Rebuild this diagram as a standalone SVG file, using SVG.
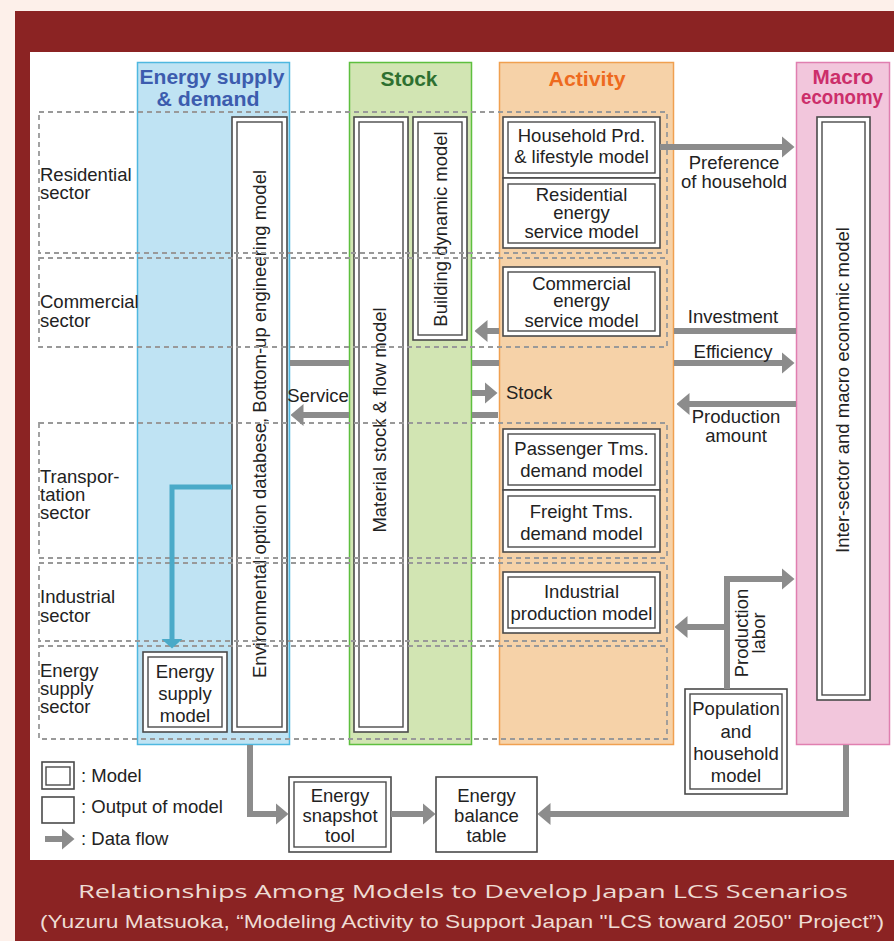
<svg xmlns="http://www.w3.org/2000/svg" width="894" height="941" viewBox="0 0 894 941">
<style>
.t{font-family:"Liberation Sans",Arial,sans-serif;font-size:18.5px;fill:#222}
.c{text-anchor:middle}
.hd{font-family:"Liberation Sans Narrow","Liberation Sans",Arial,sans-serif;font-weight:bold;font-size:21px;text-anchor:middle}
.ob{fill:#fff;stroke:#4a4a4a;stroke-width:1.6}
.ib{fill:none;stroke:#4a4a4a;stroke-width:1.4}
.sec{fill:none;stroke:#999;stroke-width:1.8;stroke-dasharray:5 4}
.ar{fill:none;stroke:#8c8c8c;stroke-width:6;marker-end:url(#ah)}
.ab{fill:none;stroke:#4aaac8;stroke-width:5;marker-end:url(#ahb)}
.cap{fill:#eedcd4;text-anchor:middle}
</style>
<defs>
<marker id="ah" markerUnits="userSpaceOnUse" markerWidth="13" markerHeight="22" viewBox="0 0 13 22" refX="0.5" refY="11" orient="auto"><path d="M0,0 L13,11 L0,22 z" fill="#8c8c8c"/></marker>
<marker id="ahb" markerUnits="userSpaceOnUse" markerWidth="10" markerHeight="22" viewBox="0 0 10 22" refX="0.5" refY="11" orient="auto"><path d="M0,0 L10,11 L0,22 z" fill="#4aaac8"/></marker>
</defs>
<rect x="0" y="0" width="894" height="941" fill="#fdf0ea"/>
<rect x="15" y="11" width="879" height="930" fill="#8b2323"/>
<rect x="30" y="52" width="864" height="808" fill="#fff"/>

<g id="columns">
<g id="col-energy"><rect x="137.5" y="62.5" width="152" height="682" fill="#bfe3f3" stroke="#4fb8e0" stroke-width="1.5"/>
<text class="hd" x="212" y="84" fill="#3c5cae" textLength="145" lengthAdjust="spacingAndGlyphs">Energy supply</text>
<text class="hd" x="208" y="106" fill="#3c5cae" textLength="103" lengthAdjust="spacingAndGlyphs">&amp; demand</text></g>
<g id="col-stock"><rect x="349.5" y="62.5" width="122" height="682" fill="#d2e5b3" stroke="#5ebf3f" stroke-width="1.5"/>
<text class="hd" x="409" y="86" fill="#2e7030" textLength="57" lengthAdjust="spacingAndGlyphs">Stock</text></g>
<g id="col-activity"><rect x="499.5" y="62.5" width="174" height="682" fill="#f6d2a8" stroke="#f0a050" stroke-width="1.5"/>
<text class="hd" x="587" y="86" fill="#ee6a1e" textLength="77" lengthAdjust="spacingAndGlyphs">Activity</text></g>
<g id="col-macro"><rect x="796.5" y="62.5" width="93" height="682" fill="#f2c6dc" stroke="#e07fb0" stroke-width="1.5"/>
<text class="hd" x="843" y="84" fill="#cc2e6a" textLength="61" lengthAdjust="spacingAndGlyphs">Macro</text>
<text class="hd" x="842" y="104" fill="#cc2e6a" textLength="82" lengthAdjust="spacingAndGlyphs">economy</text></g>
</g>

<g id="nodes">
<g id="env-db"><rect class="ob" x="232" y="117" width="55" height="615"/><rect class="ib" x="237" y="122" width="45" height="605"/>
<text class="t c" transform="translate(266,424) rotate(-90)">Environmental option databese, Bottom-up engineering model</text></g>
<g id="energy-supply-model"><rect class="ob" x="143" y="652" width="84" height="80"/><rect class="ib" x="148" y="657" width="74" height="70"/>
<text class="t c" x="185" y="678">Energy</text><text class="t c" x="185" y="700">supply</text><text class="t c" x="185" y="722">model</text></g>
<g id="material-stock"><rect class="ob" x="354" y="117" width="54" height="615"/><rect class="ib" x="359" y="122" width="44" height="605"/>
<text class="t c" transform="translate(386,420) rotate(-90)">Material stock &amp; flow model</text></g>
<g id="building-dynamic"><rect class="ob" x="413" y="117" width="54" height="223"/><rect class="ib" x="418" y="122" width="44" height="213"/>
<text class="t c" transform="translate(447,229) rotate(-90)">Building dynamic model</text></g>
<g id="household-prd"><rect class="ob" x="503" y="117" width="157" height="61"/><rect class="ib" x="508" y="122" width="147" height="51"/>
<text class="t c" x="581.5" y="142">Household Prd.</text><text class="t c" x="581.5" y="163">&amp; lifestyle model</text></g>
<g id="residential-energy"><rect class="ob" x="503" y="178" width="157" height="70"/><rect class="ib" x="508" y="184" width="147" height="59"/>
<text class="t c" x="581.5" y="201">Residential</text><text class="t c" x="581.5" y="219">energy</text><text class="t c" x="581.5" y="238">service model</text></g>
<g id="commercial-energy"><rect class="ob" x="503" y="267" width="157" height="69"/><rect class="ib" x="508" y="272" width="147" height="59"/>
<text class="t c" x="581.5" y="290">Commercial</text><text class="t c" x="581.5" y="307">energy</text><text class="t c" x="581.5" y="327">service model</text></g>
<g id="passenger"><rect class="ob" x="503" y="429" width="157" height="61"/><rect class="ib" x="508" y="434" width="147" height="51"/>
<text class="t c" x="581.5" y="455">Passenger Tms.</text><text class="t c" x="581.5" y="477">demand model</text></g>
<g id="freight"><rect class="ob" x="503" y="490" width="157" height="62"/><rect class="ib" x="508" y="496" width="147" height="51"/>
<text class="t c" x="581.5" y="518">Freight Tms.</text><text class="t c" x="581.5" y="540">demand model</text></g>
<g id="industrial-production"><rect class="ob" x="503" y="572" width="157" height="61"/><rect class="ib" x="508" y="577" width="147" height="51"/>
<text class="t c" x="581.5" y="598">Industrial</text><text class="t c" x="581.5" y="620">production model</text></g>
<g id="macro-model"><rect class="ob" x="817" y="117" width="53" height="583"/><rect class="ib" x="822" y="122" width="43" height="573"/>
<text class="t c" transform="translate(849,390) rotate(-90)">Inter-sector and macro economic model</text></g>
<g id="population"><rect class="ob" x="685" y="689" width="102" height="105"/><rect class="ib" x="690" y="694" width="92" height="95"/>
<text class="t c" x="736" y="715">Population</text><text class="t c" x="736" y="738">and</text><text class="t c" x="736" y="760">household</text><text class="t c" x="736" y="782">model</text></g>
<g id="snapshot"><rect class="ob" x="289" y="777" width="102" height="75"/><rect class="ib" x="294" y="782" width="92" height="65"/>
<text class="t c" x="340" y="802">Energy</text><text class="t c" x="340" y="822">snapshot</text><text class="t c" x="340" y="842">tool</text></g>
<g id="balance"><rect class="ob" x="436" y="777" width="101" height="75"/>
<text class="t c" x="486.5" y="802">Energy</text><text class="t c" x="486.5" y="822">balance</text><text class="t c" x="486.5" y="842">table</text></g>
</g>

<g id="sectors">
<rect class="sec" x="39" y="112" width="628" height="141"/>
<rect class="sec" x="39" y="258" width="628" height="89"/>
<rect class="sec" x="39" y="423" width="628" height="135"/>
<rect class="sec" x="39" y="563" width="628" height="78"/>
<rect class="sec" x="39" y="646" width="628" height="93"/>
<text class="t" x="40" y="181">Residential</text><text class="t" x="40" y="199">sector</text>
<text class="t" x="40" y="308">Commercial</text><text class="t" x="40" y="327">sector</text>
<text class="t" x="40" y="483">Transpor-</text><text class="t" x="40" y="501">tation</text><text class="t" x="40" y="519">sector</text>
<text class="t" x="40" y="603">Industrial</text><text class="t" x="40" y="622">sector</text>
<text class="t" x="40" y="677">Energy</text><text class="t" x="40" y="695">supply</text><text class="t" x="40" y="713">sector</text>
</g>

<g id="connectors">
<path class="ar" d="M660,147 H782"/>
<path class="ar" d="M796,331 H674 M499,331 H487"/>
<path class="ar" d="M290,363 H349 M472,363 H499 M674,363 H782"/>
<path class="ar" d="M472,393 H485"/>
<path class="ar" d="M796,404 H689"/>
<path class="ar" d="M498,415 H472 M349,415 H303"/>
<path class="ar" d="M727,689 V579 H782"/>
<path class="ar" d="M727,627 H687"/>
<path class="ab" d="M232,487 H172 V639"/>
<path class="ar" d="M250,745 V814 H276"/>
<path class="ar" d="M391,814 H423"/>
<path class="ar" d="M846,745 V814 H550"/>
<text class="t c" x="734" y="169">Preference</text><text class="t c" x="734" y="188">of household</text>
<text class="t c" x="733" y="323">Investment</text>
<text class="t c" x="733" y="358">Efficiency</text>
<text class="t" x="506" y="399">Stock</text>
<text class="t c" x="318" y="402">Service</text>
<text class="t c" x="736" y="423">Production</text><text class="t c" x="736" y="442">amount</text>
<text class="t c" transform="translate(748,633) rotate(-90)">Production</text>
<text class="t c" transform="translate(765,633) rotate(-90)">labor</text>
</g>

<g id="legend">
<rect class="ob" x="42" y="762" width="32" height="27"/><rect class="ib" x="46" y="767" width="24" height="18"/>
<text class="t" x="81" y="782">: Model</text>
<rect class="ob" x="42" y="797" width="32" height="26"/>
<text class="t" x="81" y="813">: Output of model</text>
<path class="ar" d="M45,839 H62"/>
<text class="t" x="81" y="845">: Data flow</text>
</g>

<g id="caption">
<text class="cap" x="463" y="898" font-family="'Open Sans','Liberation Sans',sans-serif" font-size="19" textLength="770" lengthAdjust="spacingAndGlyphs">Relationships Among Models to Develop Japan LCS Scenarios</text>
<text class="cap" x="462" y="928" font-family="'Liberation Sans Narrow','Liberation Sans',sans-serif" font-size="19" textLength="844" lengthAdjust="spacingAndGlyphs">(Yuzuru Matsuoka, “Modeling Activity to Support Japan "LCS toward 2050" Project”)</text>
</g>
</svg>
